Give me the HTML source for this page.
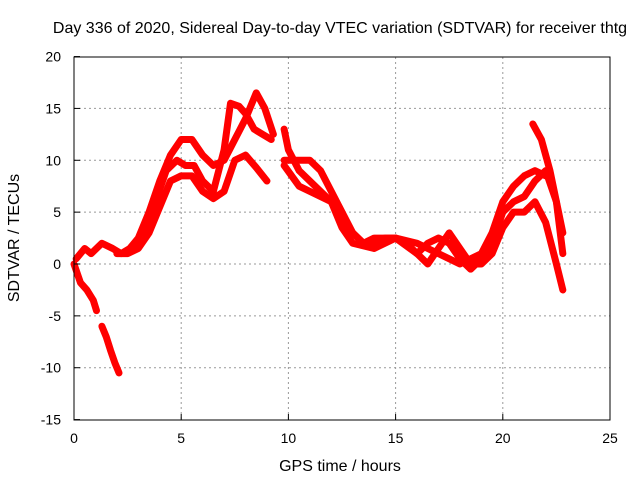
<!DOCTYPE html>
<html><head><meta charset="utf-8"><style>
body{margin:0;background:#fff;}
svg text{font-family:"Liberation Sans",sans-serif;font-size:14px;fill:#000;}
svg text.big{font-size:16px;}
</style></head><body>
<svg id="chart" width="640" height="480">
<rect width="640" height="480" fill="#fff"/>
<g id="grid"></g>
<g id="series"></g>
<rect x="74" y="57" width="536" height="363" fill="none" stroke="#000" stroke-width="1"/>
<g id="ticks"></g>
<text class="big" x="340" y="33" text-anchor="middle">Day 336 of 2020, Sidereal Day-to-day VTEC variation (SDTVAR) for receiver thtg</text>
<text class="big" x="340" y="471" text-anchor="middle">GPS time / hours</text>
<text class="big" transform="translate(19,238) rotate(-90)" text-anchor="middle">SDTVAR / TECUs</text>
</svg>
<script>
const xTicks=[0,5,10,15,20,25];
const yTicks=[20,15,10,5,0,-5,-10,-15];
const trackA_x=[0,0.3,0.6,0.9,1.05];
const trackA_y=[0,-1.8,-2.5,-3.5,-4.5];
const trackA2_x=[1.3,1.5,1.7,1.9,2.1];
const trackA2_y=[-6,-7,-8.3,-9.5,-10.5];
const trackB_x=[0.1,0.5,0.8,1.3,1.8,2.2,2.6,3,3.5,4,4.5,5,5.5,6,6.5,7,7.5,8,8.5,8.9,9.3];
const trackB_y=[0.5,1.5,1,2,1.5,1,1.5,2.5,5,8,10.5,12,12,10.5,9.5,10,12,14,16.5,15,12.5];
const trackC_x=[3.3,3.8,4.3,4.8,5.2,5.6,6,6.5,7,7.3,7.7,8,8.4,8.8,9.2];
const trackC_y=[3,6,9,10,9.5,9.5,8,7,11,15.5,15.2,14.5,13,12.5,12];
const trackD_x=[2,2.5,3,3.5,4,4.5,5,5.5,6,6.5,7,7.5,8,8.5,9];
const trackD_y=[1,1,1.5,3,5.5,8,8.5,8.5,7,6.3,7,10,10.5,9.3,8];
const trackE_x=[9.8,10,10.5,11,11.5,12,12.5,13,13.5,14,14.5,15,15.5,16,16.5,17,17.5,18,18.5,19,19.5,20,20.5,21,21.5,22,22.5,22.8];
const trackE_y=[13,11,9,8,7,6,4,3,2,2,2.5,2.5,2,1,2,2.5,2,0.5,-0.5,0.5,2,5,6,6.5,8,9,6,1];
const trackF_x=[9.8,10.5,11,11.5,12,12.5,13,13.5,14,15,16,16.5,17,17.5,18,18.5,19,19.5,20,20.5,21,21.5,22,22.5,22.8];
const trackF_y=[10,10,10,9,7,5,3,2,2.5,2.5,1,0,1.5,3,1.5,0,0,1,3.5,5,5,6,4,0,-2.5];
const trackG_x=[21.4,21.8,22.2,22.5,22.8];
const trackG_y=[13.5,12,9,6,3];
const trackH_x=[9.8,10.5,11,12,12.5,13,14,15,16,17,18,19,19.5,20,20.5,21,21.5,22];
const trackH_y=[9.5,7.5,7,6,3.5,2,1.5,2.5,2,1,0,1,3,6,7.5,8.5,9,8.5];
const tracks=[[trackA_x,trackA_y],[trackA2_x,trackA2_y],[trackB_x,trackB_y],[trackC_x,trackC_y],[trackD_x,trackD_y],[trackE_x,trackE_y],[trackF_x,trackF_y],[trackG_x,trackG_y],[trackH_x,trackH_y]];
const X=v=>74+v*(536/25);
const Y=v=>264-v*(51.86/5);
const NS="http://www.w3.org/2000/svg";
const grid=document.getElementById('grid'),ticks=document.getElementById('ticks'),ser=document.getElementById('series');
function mk(tag,attrs,parent){const e=document.createElementNS(NS,tag);for(const k in attrs)e.setAttribute(k,attrs[k]);parent.appendChild(e);return e;}
xTicks.forEach(t=>{
 if(t>0&&t<25){const l=mk('line',{x1:X(t),x2:X(t),y1:57,y2:420,stroke:'#999','stroke-dasharray':'2,3'},grid);
 
 }
 const tl=mk('line',{x1:X(t),x2:X(t),y1:420,y2:414,stroke:'#000'},ticks);
 
 
 const tx=mk('text',{x:X(t),y:443,'text-anchor':'middle'},ticks);tx.textContent=t;
 
 
});
yTicks.forEach(t=>{
 if(t<20&&t>-15){const l=mk('line',{x1:74,x2:610,y1:Y(t),y2:Y(t),stroke:'#999','stroke-dasharray':'2,3'},grid);
 
 }
 const tl=mk('line',{x1:74,x2:80,y1:Y(t),y2:Y(t),stroke:'#000'},ticks);
 
 
 const tx=mk('text',{x:61,y:Y(t)+5,'text-anchor':'end'},ticks);tx.textContent=t;
 
 
});
tracks.forEach(([xs,ys])=>{
 const p=mk('polyline',{points:xs.map((x,i)=>X(x)+','+Y(ys[i])).join(' '),fill:'none',stroke:'#f00','stroke-width':7,'stroke-linejoin':'round','stroke-linecap':'round'},ser);
 
 
});
</script>
</body></html>
